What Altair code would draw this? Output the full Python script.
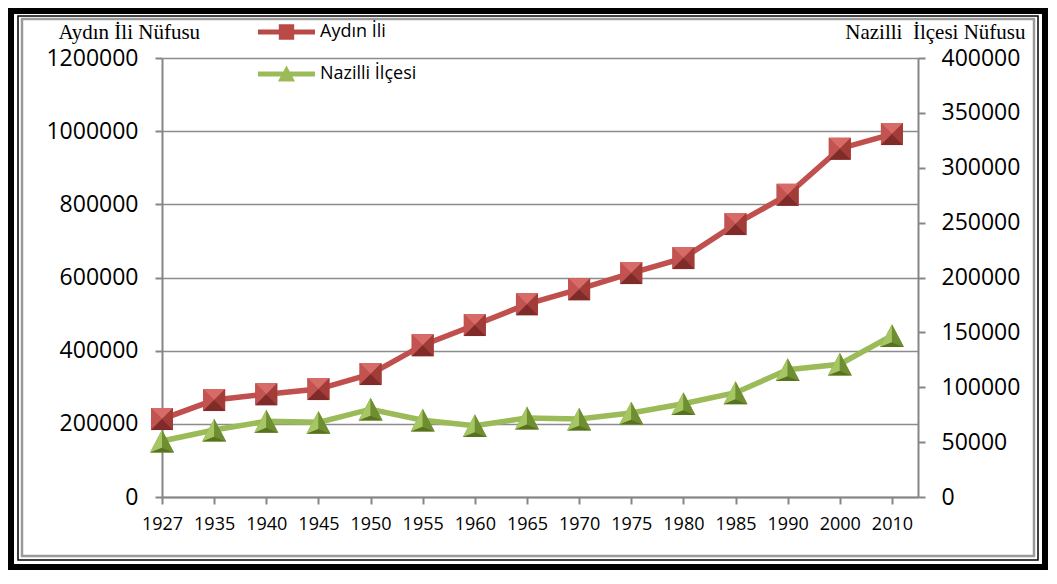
import altair as alt
import pandas as pd

years = ["1927", "1935", "1940", "1945", "1950", "1955", "1960", "1965",
         "1970", "1975", "1980", "1985", "1990", "2000", "2010"]
aydin = [213000, 265000, 281000, 295000, 336000, 415000, 470000, 527000,
         568000, 612000, 653000, 746000, 826000, 952000, 992000]
nazilli = [51000, 61000, 69000, 68000, 80000, 70000, 65000, 72000,
           71000, 76500, 85000, 95000, 116000, 121000, 147000]
series_names = ["Aydın İli", "Nazilli İlçesi"]
left_title = "Aydın İli Nüfusu"
right_title = "Nazilli\u00a0 İlçesi Nüfusu"

df = pd.DataFrame({"i": list(range(len(years))), "year": years,
                   "aydin": aydin, "nazilli": nazilli})

RED = "#c0504d"
GREEN = "#9bbb59"
GRAY = "#868686"
W, H = 756, 439

label_expr = "[" + ",".join("'%s'" % y for y in years) + "][datum.value]"

x_enc = alt.X("i:Q",
              scale=alt.Scale(domain=[0, len(years) - 0.5], nice=False, zero=False),
              axis=alt.Axis(values=list(range(len(years))), labelExpr=label_expr,
                            grid=False, title=None, labelFontSize=18, labelOverlap=False,
                            labelFlush=False, labelBound=False, labelPadding=11, labelAngle=0))

y_left = alt.Y("aydin:Q",
               scale=alt.Scale(domain=[0, 1200000], nice=False),
               axis=alt.Axis(orient="left", values=[0, 200000, 400000, 600000, 800000, 1000000, 1200000],
                             format="d", grid=True, title=left_title, titleFontSize=21,
                             titleAngle=0, titleX=-104, titleY=-26, titleAlign="left",
                             titleBaseline="middle", labelPadding=17, labelFontSize=23,
                             labelOverlap=False, labelBound=False, labelFlush=False))
y_right = alt.Y("nazilli:Q",
                scale=alt.Scale(domain=[0, 400000], nice=False),
                axis=alt.Axis(orient="right",
                              values=[0, 50000, 100000, 150000, 200000, 250000, 300000, 350000, 400000],
                              format="d", grid=False, title=right_title, titleFontSize=21,
                              titleAngle=0, titleX=107, titleY=-26, titleAlign="right",
                              titleBaseline="middle", labelPadding=16, labelFontSize=23,
                              labelOverlap=False, labelBound=False, labelFlush=False))

base = alt.Chart(df)

# marker facet shapes
SQ = "M-1,-1L1,-1L1,1L-1,1Z"
SQ_TOP = "M-1,-1L1,-1L0,0Z"
SQ_LEFT = "M-1,-1L-1,1L0,0Z"
SQ_RIGHT = "M1,-1L1,1L0,0Z"
SQ_BOTTOM = "M-1,1L1,1L0,0Z"
TRI = "M0,-0.95L1,0.95L-1,0.95Z"
TRI_LEFT = "M0,-0.95L-1,0.95L0,0.55Z"
TRI_RIGHT = "M0,-0.95L1,0.95L0,0.55Z"
TRI_BOTTOM = "M-1,0.95L1,0.95L0,0.55Z"


def facet(shape, color, size, y):
    return base.mark_point(shape=shape, filled=True, fill=color, opacity=1,
                           strokeWidth=0, size=size).encode(x=x_enc, y=y)


aydin_layer = alt.layer(
    base.mark_line(color=RED, strokeWidth=5.5).encode(x=x_enc, y=y_left),
    facet(SQ, "#b54845", 484, y_left),
    facet(SQ_TOP, "#d66b67", 484, y_left),
    facet(SQ_LEFT, "#c35350", 484, y_left),
    facet(SQ_RIGHT, "#a23c39", 484, y_left),
    facet(SQ_BOTTOM, "#7e2b29", 484, y_left),
)

nazilli_layer = alt.layer(
    base.mark_line(color=GREEN, strokeWidth=5.5).encode(x=x_enc, y=y_right),
    facet(TRI, "#86a545", 576, y_right),
    facet(TRI_LEFT, "#a5c663", 576, y_right),
    facet(TRI_RIGHT, "#6f8d31", 576, y_right),
    facet(TRI_BOTTOM, "#58731f", 576, y_right),
)

LEG_SQ = "M-1,-0.09L1,-0.09L1,0.09L-1,0.09Z M-0.27,-0.27L0.27,-0.27L0.27,0.27L-0.27,0.27Z"
LEG_TRI = "M-1,-0.09L1,-0.09L1,0.09L-1,0.09Z M0,-0.3L0.3,0.26L-0.3,0.26Z"

leg = alt.Legend(orient="none", legendX=96, legendY=-39, title=None, direction="vertical",
                 symbolSize=3249, symbolStrokeWidth=0, symbolOpacity=1,
                 labelFont="Open Sans", labelFontSize=18, labelColor="black",
                 labelOffset=5, clipHeight=26, rowPadding=16, padding=0)

legend_layer = base.transform_calculate(series="'x'").transform_filter("false").mark_point(
    filled=True, opacity=1, strokeWidth=0).encode(
    shape=alt.Shape("series:N", scale=alt.Scale(domain=series_names, range=[LEG_SQ, LEG_TRI]), legend=leg),
    fill=alt.Fill("series:N", scale=alt.Scale(domain=series_names, range=["#b94a47", GREEN]), legend=leg),
)

one = alt.Data(values=[{}])
frame_outer = alt.Chart(one).mark_rect(fillOpacity=0, stroke="black", strokeWidth=12).encode(
    x=alt.value(-154), x2=alt.value(886), y=alt.value(-50), y2=alt.value(512))
frame_thin = alt.Chart(one).mark_rect(fillOpacity=0, stroke="black", strokeWidth=1.5).encode(
    x=alt.value(-144), x2=alt.value(876), y=alt.value(-42), y2=alt.value(502))
frame_gray = alt.Chart(one).mark_rect(fillOpacity=0, stroke="#9a9a9a", strokeWidth=2.5).encode(
    x=alt.value(-140), x2=alt.value(872), y=alt.value(-39), y2=alt.value(498))

chart = alt.layer(
    frame_outer, frame_thin, frame_gray,
    aydin_layer, nazilli_layer, legend_layer
).resolve_scale(y="independent").properties(
    width=W, height=H,
    autosize=alt.AutoSizeParams(type="none"),
    padding={"left": 154, "top": 50, "right": 130, "bottom": 73},
    background="white",
).configure_view(stroke=None).configure_axis(
    domainColor=GRAY, domainWidth=2, tickColor=GRAY, tickWidth=2, tickSize=7,
    gridColor="#8c8c8c", gridWidth=1.5, labelColor="black", labelFont="Open Sans",
    titleFont="Liberation Serif", titleFontSize=20, titleFontWeight="normal",
    titleColor="black",
)

chart.save("out.html", embed_options={"renderer": "svg", "actions": False})
